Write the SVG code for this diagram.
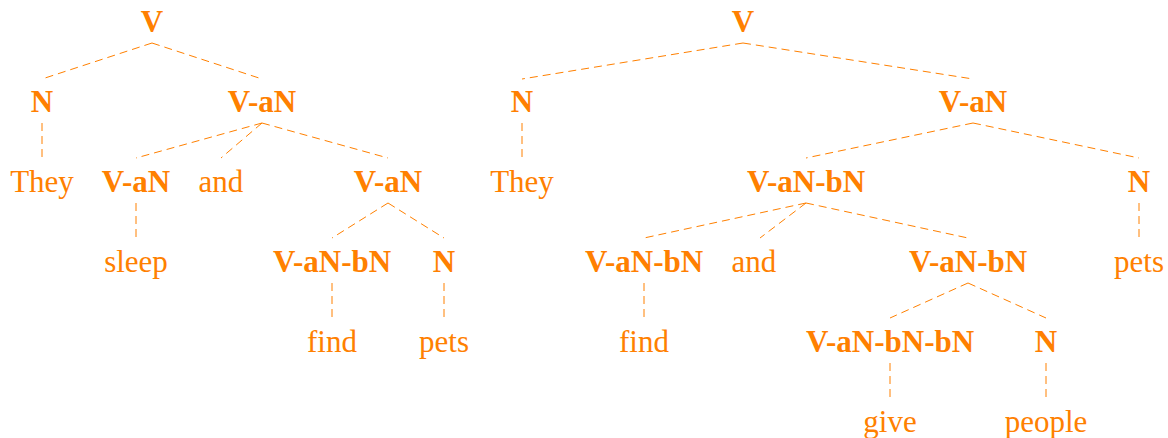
<svg xmlns="http://www.w3.org/2000/svg" width="1168" height="438" viewBox="0 0 1168 438">
<style>
text{font-family:"Liberation Serif","Times New Roman",serif;font-size:31px;fill:#ff8000;text-anchor:middle}
.c{font-weight:bold}
.e line{stroke:#ff8000;stroke-width:1;stroke-dasharray:8 5;fill:none}
</style>
<rect width="1168" height="438" fill="#fff"/>
<g class="e" id="connectors">
<line x1="152" y1="43" x2="42" y2="79"/>
<line x1="152" y1="43" x2="262" y2="79"/>
<line x1="42" y1="123" x2="42" y2="158"/>
<line x1="262" y1="123" x2="136" y2="158"/>
<line x1="262" y1="123" x2="221" y2="158"/>
<line x1="262" y1="123" x2="388" y2="158"/>
<line x1="136" y1="203" x2="136" y2="238"/>
<line x1="388" y1="203" x2="332" y2="238"/>
<line x1="388" y1="203" x2="444" y2="238"/>
<line x1="332" y1="283" x2="332" y2="318"/>
<line x1="444" y1="283" x2="444" y2="318"/>
<line x1="743" y1="43" x2="522" y2="79"/>
<line x1="743" y1="43" x2="973" y2="79"/>
<line x1="522" y1="123" x2="522" y2="158"/>
<line x1="973" y1="123" x2="806" y2="158"/>
<line x1="973" y1="123" x2="1139" y2="158"/>
<line x1="806" y1="203" x2="644" y2="238"/>
<line x1="806" y1="203" x2="760" y2="238"/>
<line x1="806" y1="203" x2="968" y2="238"/>
<line x1="1139" y1="203" x2="1139" y2="238"/>
<line x1="644" y1="283" x2="644" y2="318"/>
<line x1="968" y1="283" x2="890" y2="318"/>
<line x1="968" y1="283" x2="1046" y2="318"/>
<line x1="890" y1="363" x2="890" y2="398"/>
<line x1="1046" y1="363" x2="1046" y2="398"/>
</g>
<g id="l-V"><text class="c" x="152" y="32">V</text></g>
<g id="l-N"><text class="c" x="42" y="112">N</text></g>
<g id="l-VaN"><text class="c" x="262" y="112">V-aN</text></g>
<g id="l-They"><text x="42" y="192">They</text></g>
<g id="l-VaN2"><text class="c" x="136" y="192">V-aN</text></g>
<g id="l-and"><text x="221" y="192">and</text></g>
<g id="l-VaN3"><text class="c" x="388" y="192">V-aN</text></g>
<g id="l-sleep"><text x="136" y="272">sleep</text></g>
<g id="l-VaNbN"><text class="c" x="332" y="272">V-aN-bN</text></g>
<g id="l-N2"><text class="c" x="444" y="272">N</text></g>
<g id="l-find"><text x="332" y="352">find</text></g>
<g id="l-pets"><text x="444" y="352">pets</text></g>
<g id="r-V"><text class="c" x="743" y="32">V</text></g>
<g id="r-N"><text class="c" x="522" y="112">N</text></g>
<g id="r-VaN"><text class="c" x="973" y="112">V-aN</text></g>
<g id="r-They"><text x="522" y="192">They</text></g>
<g id="r-VaNbN"><text class="c" x="806" y="192">V-aN-bN</text></g>
<g id="r-N2"><text class="c" x="1139" y="192">N</text></g>
<g id="r-VaNbN2"><text class="c" x="644" y="272">V-aN-bN</text></g>
<g id="r-and"><text x="754" y="272">and</text></g>
<g id="r-VaNbN3"><text class="c" x="968" y="272">V-aN-bN</text></g>
<g id="r-pets"><text x="1139" y="272">pets</text></g>
<g id="r-find"><text x="644" y="352">find</text></g>
<g id="r-VaNbNbN"><text class="c" x="890" y="352">V-aN-bN-bN</text></g>
<g id="r-N3"><text class="c" x="1046" y="352">N</text></g>
<g id="r-give"><text x="890" y="432">give</text></g>
<g id="r-people"><text x="1046" y="432">people</text></g>
</svg>
